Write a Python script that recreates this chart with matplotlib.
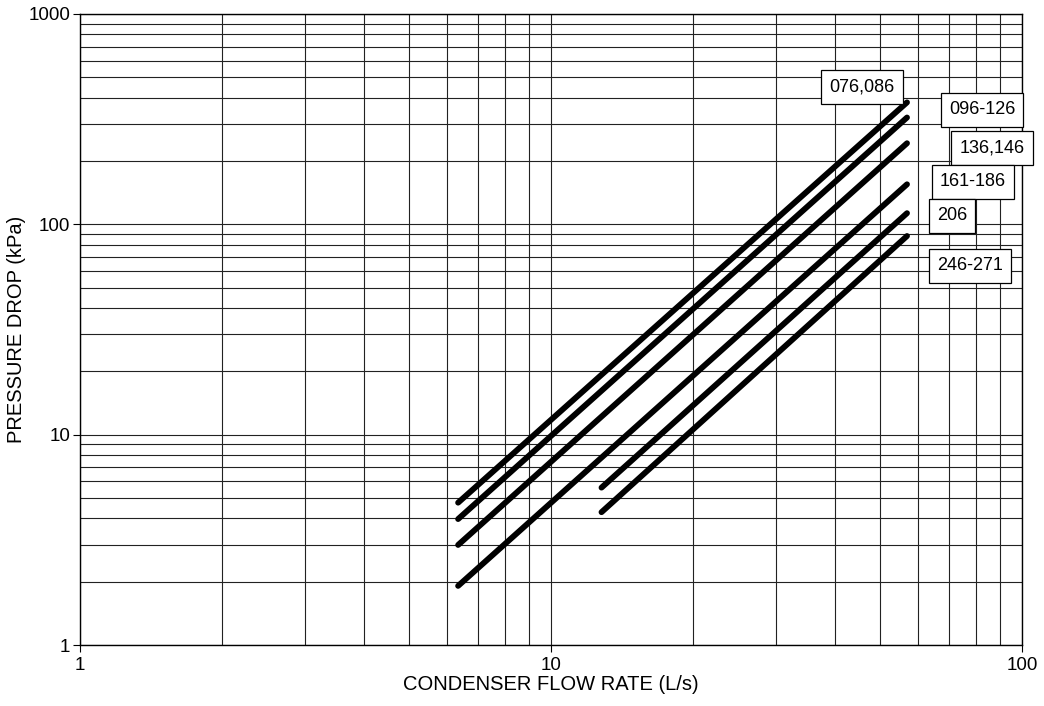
import numpy as np
import matplotlib.pyplot as plt
from matplotlib.ticker import LogLocator, FixedLocator, NullFormatter

plt.rcParams['font.family'] = ['Liberation Sans', 'DejaVu Sans']

# Model groups and their pressure drop lines (read at both ends)
models = ["076,086", "096-126", "136,146", "161-186", "206", "246-271"]
flow_start = [6.35, 6.35, 6.35, 6.35, 12.8, 12.8]      # L/s
flow_end = [57.0, 57.0, 57.0, 57.0, 57.0, 57.0]        # L/s
dp_start = [4.75, 3.97, 2.99, 1.91, 5.6, 4.28]         # kPa
dp_end = [380, 322, 243, 155, 113, 88]                 # kPa

# Label box centres in pixels (axes: left=80, right=1022, top=14, bottom=645)
ax_l, ax_r, ax_t, ax_b = 80, 1022, 14, 645
label_px = [(862, 87), (982, 110), (992, 148), (973, 182), (952, 216), (970, 266)]

fig = plt.figure(figsize=(10.44, 7.06), dpi=100)
ax = fig.add_axes([ax_l / 1044, 1 - ax_b / 706, (ax_r - ax_l) / 1044, (ax_b - ax_t) / 706])

ax.set_xscale('log')
ax.set_yscale('log')
ax.set_xlim(1, 100)
ax.set_ylim(1, 1000)

# Lines
for i in range(len(models)):
    ax.plot([flow_start[i], flow_end[i]], [dp_start[i], dp_end[i]],
            color='black', linewidth=4.2, solid_capstyle='round', zorder=3)

# Grid on every decade subdivision
ax.xaxis.set_major_locator(FixedLocator([1, 10, 100]))
ax.yaxis.set_major_locator(FixedLocator([1, 10, 100, 1000]))
ax.xaxis.set_minor_locator(LogLocator(base=10, subs=np.arange(2, 10)))
ax.yaxis.set_minor_locator(LogLocator(base=10, subs=np.arange(2, 10)))
ax.xaxis.set_minor_formatter(NullFormatter())
ax.yaxis.set_minor_formatter(NullFormatter())
ax.set_xticklabels(['1', '10', '100'])
ax.set_yticklabels(['1', '10', '100', '1000'])
ax.grid(True, which='both', color='#222222', linewidth=0.8)
ax.tick_params(which='major', direction='out', length=5, width=0.8, labelsize=13.5, pad=2)
ax.tick_params(axis='x', which='major', pad=4)
ax.tick_params(which='minor', length=0)

for s in ax.spines.values():
    s.set_linewidth(1.0)
    s.set_color('black')

# Model labels in boxes
for name, (px, py) in zip(models, label_px):
    fx = (px - ax_l) / (ax_r - ax_l)
    fy = (ax_b - py) / (ax_b - ax_t)
    ax.text(fx, fy, name, transform=ax.transAxes, ha='center', va='center',
            fontsize=13, clip_on=False, zorder=5,
            bbox=dict(boxstyle='square,pad=0.45', facecolor='white',
                      edgecolor='black', linewidth=0.9))

ax.set_xlabel('CONDENSER FLOW RATE (L/s)', fontsize=14.5, labelpad=0)
ax.set_ylabel('PRESSURE DROP (kPa)', fontsize=14.5, labelpad=2)

fig.savefig('out.png', dpi=100)
